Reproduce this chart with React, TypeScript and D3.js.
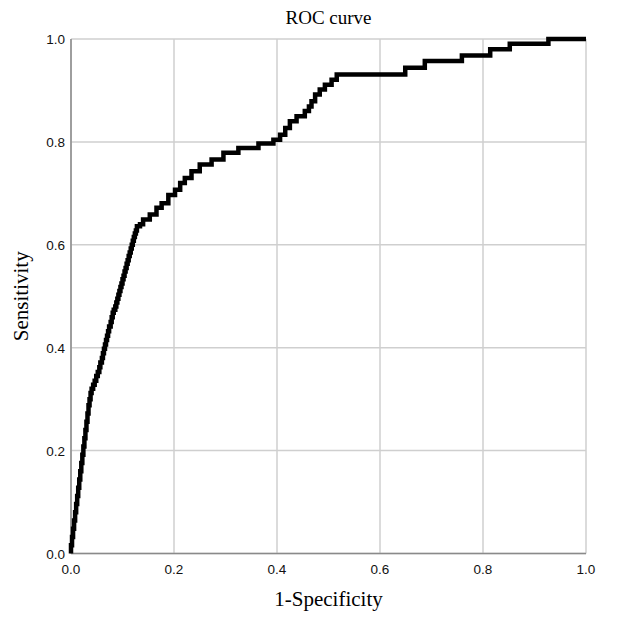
import React from "react";
import * as d3 from "d3";

const xTicks = [0, 0.2, 0.4, 0.6, 0.8, 1.0];
const yTicks = [0, 0.2, 0.4, 0.6, 0.8, 1.0];

// ROC vertices (1-specificity, sensitivity), step up then right
const fpr = [
  0, 0.002, 0.004, 0.006, 0.008, 0.01, 0.012, 0.014, 0.016, 0.018, 0.02, 0.022, 0.024, 0.026,
  0.028, 0.03, 0.032, 0.034, 0.036, 0.038, 0.04, 0.043, 0.046, 0.049, 0.052, 0.055, 0.057,
  0.06, 0.062, 0.064, 0.066, 0.068, 0.07, 0.072, 0.074, 0.077, 0.079, 0.081, 0.083, 0.086,
  0.088, 0.09, 0.092, 0.094, 0.096, 0.098, 0.1, 0.102, 0.104, 0.106, 0.108, 0.11, 0.112,
  0.114, 0.116, 0.118, 0.12, 0.122, 0.124, 0.126, 0.128, 0.134, 0.14, 0.153, 0.166, 0.176,
  0.189, 0.202, 0.212, 0.221, 0.234, 0.25, 0.273, 0.296, 0.325, 0.364, 0.393, 0.406, 0.416,
  0.425, 0.438, 0.454, 0.462, 0.467, 0.474, 0.483, 0.493, 0.506, 0.516, 0.526, 0.649, 0.687,
  0.759, 0.814, 0.852, 0.927, 1.0,
];
const tpr = [
  0, 0.016, 0.032, 0.048, 0.064, 0.08, 0.096, 0.112, 0.128, 0.144, 0.16, 0.176, 0.192, 0.208,
  0.224, 0.24, 0.256, 0.272, 0.288, 0.3, 0.312, 0.32, 0.328, 0.336, 0.345, 0.353, 0.362,
  0.371, 0.38, 0.389, 0.398, 0.406, 0.415, 0.423, 0.432, 0.441, 0.45, 0.459, 0.468, 0.474,
  0.48, 0.488, 0.495, 0.503, 0.51, 0.518, 0.525, 0.533, 0.54, 0.548, 0.555, 0.563, 0.57,
  0.578, 0.585, 0.593, 0.6, 0.608, 0.615, 0.622, 0.628, 0.636, 0.64, 0.649, 0.659, 0.672,
  0.681, 0.697, 0.707, 0.72, 0.73, 0.743, 0.756, 0.766, 0.779, 0.788, 0.797, 0.804, 0.814,
  0.827, 0.84, 0.85, 0.86, 0.869, 0.879, 0.892, 0.902, 0.911, 0.921, 0.931, 0.931, 0.944,
  0.957, 0.968, 0.98, 0.991, 1.0,
];

const W = 641;
const H = 618;
const left = 71;
const right = 586;
const top = 39;
const bottom = 553.5;

export default function App() {
  const x = d3.scaleLinear().domain([0, 1]).range([left, right]);
  const y = d3.scaleLinear().domain([0, 1]).range([bottom, top]);
  const pts: [number, number][] = fpr.map((f, i) => [f, tpr[i]]);
  const line = d3
    .line<[number, number]>()
    .x((d) => x(d[0]))
    .y((d) => y(d[1]))
    .curve(d3.curveStepBefore);
  const fmt = d3.format(".1f");
  return (
    <svg
      width={W}
      height={H}
      style={{ position: "absolute", left: 0, top: 0, background: "#fff" }}
    >
      <rect x={0} y={0} width={W} height={H} fill="#fff" />
      {xTicks.map((t) => (
        <line key={"gx" + t} x1={x(t)} x2={x(t)} y1={top} y2={bottom} stroke="#cfcfcf" strokeWidth={1.5} />
      ))}
      {yTicks.map((t) => (
        <line key={"gy" + t} x1={left} x2={right} y1={y(t)} y2={y(t)} stroke="#cfcfcf" strokeWidth={1.5} />
      ))}
      <line x1={left} x2={left} y1={top} y2={bottom} stroke="#8a8a8a" strokeWidth={1.5} />
      <line x1={left} x2={right} y1={bottom} y2={bottom} stroke="#8a8a8a" strokeWidth={1.5} />
      {yTicks.map((t) => (
        <text
          key={"ty" + t}
          x={left - 6}
          y={y(t) + 5}
          textAnchor="end"
          fontFamily="Liberation Sans, Arial, sans-serif"
          fontSize={13.5}
          fill="#111"
        >
          {fmt(t)}
        </text>
      ))}
      {xTicks.map((t) => (
        <text
          key={"tx" + t}
          x={x(t)}
          y={bottom + 20}
          textAnchor="middle"
          fontFamily="Liberation Sans, Arial, sans-serif"
          fontSize={13.5}
          fill="#111"
        >
          {fmt(t)}
        </text>
      ))}
      <path d={line(pts) || ""} fill="none" stroke="#000" strokeWidth={4.5} strokeLinejoin="miter" />
      <text
        x={(left + right) / 2}
        y={24}
        textAnchor="middle"
        fontFamily="Liberation Serif, Times New Roman, serif"
        fontSize={19}
        fill="#000"
      >
        ROC curve
      </text>
      <text
        x={(left + right) / 2}
        y={606}
        textAnchor="middle"
        fontFamily="Liberation Serif, Times New Roman, serif"
        fontSize={21}
        fill="#000"
      >
        1-Specificity
      </text>
      <text
        transform={`translate(28, ${(top + bottom) / 2}) rotate(-90)`}
        textAnchor="middle"
        fontFamily="Liberation Serif, Times New Roman, serif"
        fontSize={21}
        fill="#000"
      >
        Sensitivity
      </text>
    </svg>
  );
}
